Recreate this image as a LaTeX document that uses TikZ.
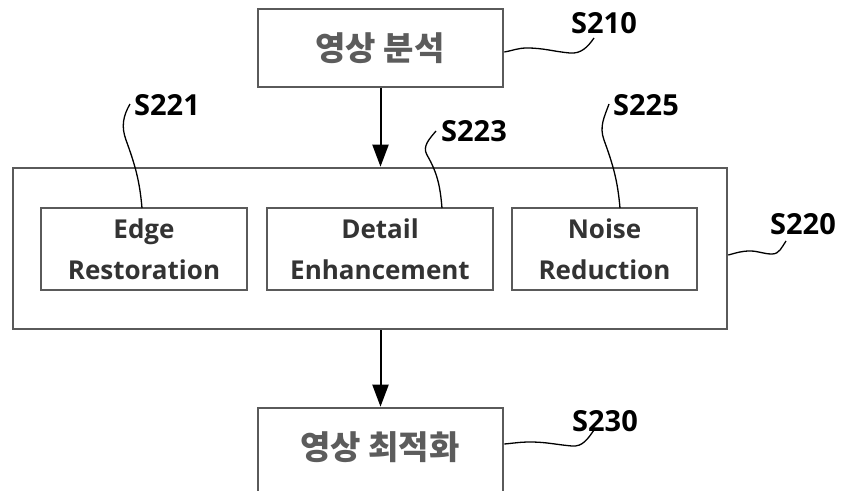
\documentclass[tikz,border=0pt]{standalone}
\usepackage{fontspec}
\setmainfont{Open Sans}
\newfontfamily\krfont{Noto Sans CJK KR}
\usetikzlibrary{arrows.meta}
\definecolor{boxgray}{HTML}{5A5A5A}
\definecolor{krgray}{HTML}{5C5C5C}
\definecolor{intext}{HTML}{333333}
\begin{document}
\begin{tikzpicture}[x=1pt,y=-1pt,
  box/.style={draw=boxgray, line width=2.6pt, inner sep=0pt, fill=white},
  inbox/.style={box, minimum height=82pt, align=center, font=\fontsize{26}{41}\selectfont\bfseries, text=intext},
  krtext/.style={font=\krfont\fontsize{33}{36}\selectfont\bfseries, text=krgray, inner sep=0pt},
  lbl/.style={font=\fontsize{29}{32}\selectfont\bfseries, inner sep=0pt},
  flow/.style={draw=black, line width=2pt, -{Triangle[width=16pt,length=22pt]}},
  leader/.style={draw=black, line width=1.3pt}]
\useasboundingbox (0,0) rectangle (842,490);
\clip (0,0) rectangle (842,490);
\fill[white] (0,0) rectangle (842,490);

% top box
\node[box, minimum width=245pt, minimum height=78pt] (s210) at (380.5,48) {};
\node[krtext] (t210) at (380,48) {영상 분석};

% big box
\node[box, minimum width=714pt, minimum height=161pt] (s220) at (370,248.5) {};
\node[inbox, minimum width=206pt] (s221) at (144,249) {Edge\\Restoration};
\node[inbox, minimum width=226pt] (s223) at (380,249) {Detail\\Enhancement};
\node[inbox, minimum width=185pt] (s225) at (604.5,249) {Noise\\Reduction};

% bottom box
\node[box, minimum width=245pt, minimum height=90pt] (s230) at (380.5,453) {};
\node[krtext] (t230) at (380,447) {영상 최적화};

% arrows
\draw[flow] (s210.south) -- (s210.south |- s220.north);
\draw[flow] (s220.south -| s230.north) -- (s230.north);

% labels
\node[lbl] (l210) at (604,23.5) {S210};
\node[lbl] (l221) at (167,105) {S221};
\node[lbl] (l223) at (474,131) {S223};
\node[lbl] (l225) at (646,105) {S225};
\node[lbl] (l220) at (803,224) {S220};
\node[lbl] (l230) at (605,421) {S230};

\coordinate (e210) at (594,38);
\coordinate (e221) at (130,104);
\coordinate (e223) at (436,131);
\coordinate (e225) at (609,104);
\coordinate (e220) at (786,241);
\coordinate (e230) at (594,430);

% leaders
\draw[leader] (s210.east |- 0,52) to[out=10,in=180] (527,48) to[out=0,in=175] (570,53) to[out=-5,in=235] (e210);
\draw[leader] (142,208) to[out=95,in=-70] (126,140) to[out=110,in=-120] (e221);
\draw[leader] (442,208) to[out=95,in=-60] (427,155) to[out=120,in=-130] (e223);
\draw[leader] (620,208) to[out=95,in=-70] (604,140) to[out=110,in=-110] (e225);
\draw[leader] (s220.east |- 0,255) to[out=15,in=180] (750,251) to[out=0,in=180] (772,254) to[out=0,in=235] (e220);
\draw[leader] (s230.east |- 0,444) to[out=5,in=180] (530,442) to[out=0,in=175] (572,446) to[out=-5,in=235] (e230);
\end{tikzpicture}
\end{document}
